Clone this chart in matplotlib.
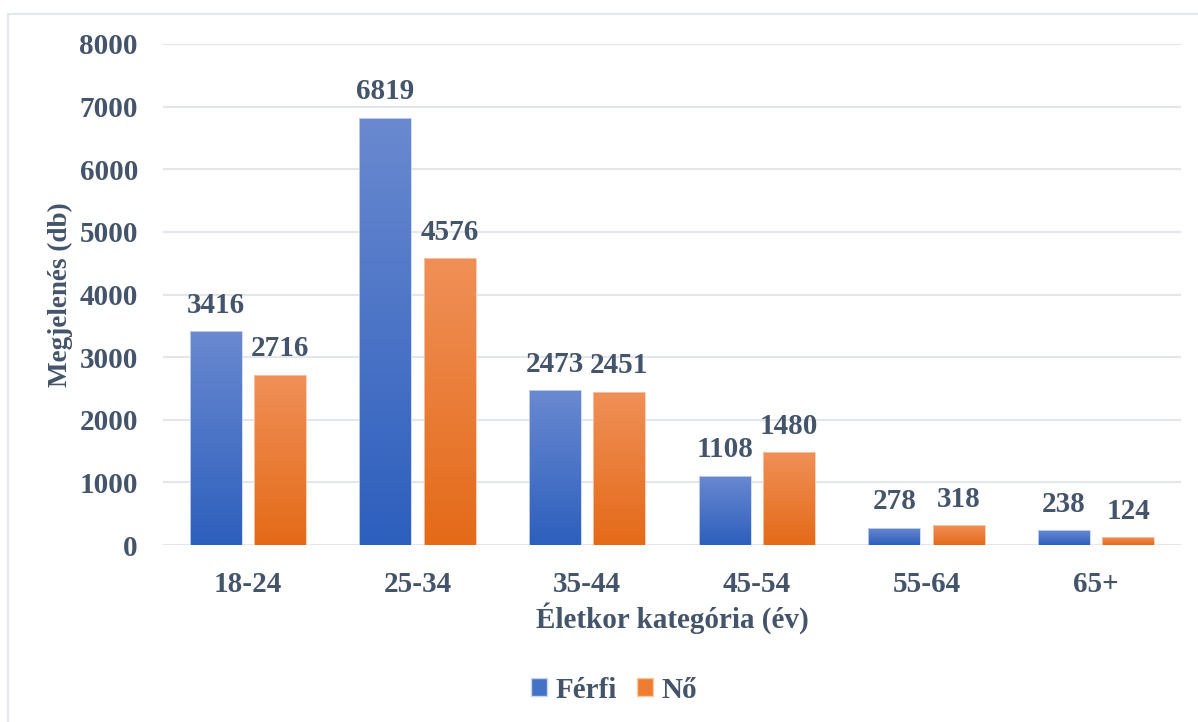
import matplotlib
matplotlib.use("Agg")
import matplotlib.pyplot as plt
import numpy as np
from matplotlib.patches import Rectangle, Patch
from matplotlib.colors import LinearSegmentedColormap

categories = ["18-24", "25-34", "35-44", "45-54", "55-64", "65+"]
ferfi = [3416, 6819, 2473, 1108, 278, 238]
no = [2716, 4576, 2451, 1480, 318, 124]
series_names = ["Férfi", "Nő"]
yticks = [0, 1000, 2000, 3000, 4000, 5000, 6000, 7000, 8000]

TXT = "#44546A"
FONT = "Liberation Serif"
FS = 21
blue_top, blue_bot = "#6A89D0", "#2D5FBD"
orange_top, orange_bot = "#F09058", "#E46A18"

fig = plt.figure(figsize=(11.98, 7.22), dpi=100)
fig.patch.set_facecolor("white")
ax = fig.add_axes([163/1198, 1-545/722, (1181-163)/1198, (545-44)/722])

# chart border
fig.patches.append(Rectangle((8/1198, -0.05), 1.2, 1-14/722+0.05, transform=fig.transFigure,
                             fill=False, edgecolor="#E3E6EA", linewidth=1.5))

x = np.arange(len(categories))
w = 0.306
off = 0.19

def grad_bars(xs, vals, top, bot, edge, label):
    bars = ax.bar(xs, vals, width=w, color=bot, edgecolor="none", label=label, zorder=3)
    cmap = LinearSegmentedColormap.from_list("g", [bot, top])
    grad = np.linspace(0, 1, 256).reshape(-1, 1)
    for b in bars:
        bx, by = b.get_x(), b.get_y()
        bw, bh = b.get_width(), b.get_height()
        im = ax.imshow(grad, extent=[bx, bx + bw, by, by + bh], origin="lower",
                       aspect="auto", cmap=cmap, zorder=3.5)
        im.set_clip_path(b)
        b.set_facecolor("none")
        ax.add_patch(Rectangle((bx, by), bw, bh, fill=False, edgecolor=edge,
                               linewidth=0.6, zorder=4))
    return bars

b1 = grad_bars(x - off, ferfi, blue_top, blue_bot, "#C9D6F0", series_names[0])
b2 = grad_bars(x + off, no, orange_top, orange_bot, "#F8C9A8", series_names[1])

for bars, vals in ((b1, ferfi), (b2, no)):
    for b, v in zip(bars, vals):
        ax.annotate(str(v), (b.get_x() + b.get_width()/2, v), xytext=(0, 9),
                    textcoords="offset points", ha="center", va="bottom",
                    fontsize=FS, fontweight="bold", family=FONT, color=TXT, zorder=5)

ax.set_xlim(-0.5, len(categories) - 0.5)
ax.set_ylim(0, 8000)
ax.set_yticks(yticks)
ax.set_yticklabels([str(t) for t in yticks])
ax.set_xticks(x)
ax.set_xticklabels(categories)
ax.tick_params(axis="y", length=0, pad=18)
ax.tick_params(axis="x", length=0, pad=19)
for lab in ax.get_xticklabels() + ax.get_yticklabels():
    lab.set_fontsize(FS)
    lab.set_fontweight("bold")
    lab.set_family(FONT)
    lab.set_color(TXT)

ax.grid(axis="y", color="#E3E6EB", linewidth=1.5, zorder=0)
ax.set_axisbelow(True)
for s in ax.spines.values():
    s.set_visible(False)

ax.set_ylabel("Megjelenés (db)", fontsize=19.5, fontweight="bold", family=FONT, color=TXT, labelpad=5)
ax.set_xlabel("Életkor kategória (év)", fontsize=FS, fontweight="bold", family=FONT, color=TXT, labelpad=3)

handles = [Patch(facecolor="#4472C4", edgecolor="#C9D6F0"), Patch(facecolor="#ED7D31", edgecolor="#F8C9A8")]
leg = fig.legend(handles, series_names, loc="center", bbox_to_anchor=(614/1198, 1-690/722), ncol=2,
                 frameon=False, handlelength=0.55, handleheight=0.55, handletextpad=0.3, columnspacing=0.7,
                 prop={"family": FONT, "weight": "bold", "size": FS})
for t in leg.get_texts():
    t.set_color(TXT)

fig.savefig("out.png", dpi=100)
